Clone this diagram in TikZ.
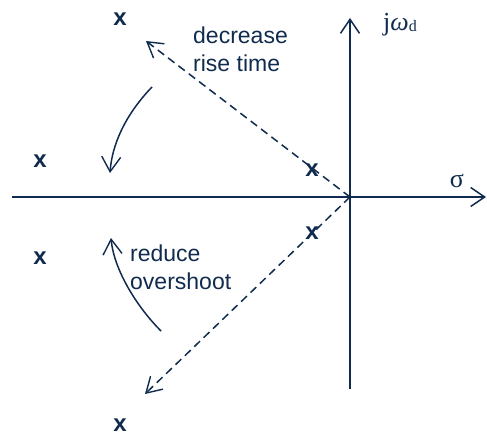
\documentclass[tikz,border=0pt]{standalone}
\usepackage{fontspec}
\setmainfont{Liberation Sans}
\newfontfamily\serifgk{Liberation Serif}
\usetikzlibrary{arrows.meta}
\definecolor{navy}{RGB}{16,43,78}
\begin{document}
\begin{tikzpicture}[x=1pt,y=-1pt,
  every node/.style={text=navy,inner sep=0pt},
  axis/.style={draw=navy,line width=1.9pt,-{Straight Barb[length=14pt,width=19pt,line width=1.5pt]}},
  dashline/.style={draw=navy,line width=1.5pt,dash pattern=on 8pt off 5pt,-{Straight Barb[length=15pt,width=18pt,line width=1.4pt]}},
  bendarrow/.style={draw=navy,line width=1.5pt,-{Straight Barb[length=15pt,width=19pt,line width=1.4pt]}},
  pole/.style={font=\fontsize{24}{27}\selectfont\bfseries},
  lbl/.style={font=\fontsize{23}{27.5}\selectfont,align=left,anchor=north west}]
\useasboundingbox (0,0) rectangle (487,436);
% axes
\coordinate (O) at (350,197);
\coordinate (xl) at (12,197);
\coordinate (xr) at (486,197);
\coordinate (yb) at (350,389);
\coordinate (yt) at (350,18);
\draw[axis] (xl) -- (xr);
\draw[axis] (yb) -- (yt);
% labels
\node (sigma) at (457,181) {\serifgk\fontsize{26}{26}\selectfont σ};
\node[anchor=base west] (jw) at (383,31) {\serifgk\fontsize{26}{26}\selectfont j{\itshape ω}\raisebox{-1pt}{\fontsize{16}{16}\selectfont d}};
% poles
\node[pole] (p1) at (120,19) {x};
\node[pole] (p2) at (40,161) {x};
\node[pole] (p3) at (312,170) {x};
\node[pole] (p4) at (312,233) {x};
\node[pole] (p5) at (40,258) {x};
\node[pole] (p6) at (120,425) {x};
% dashed lines
\coordinate (du) at (146,41);
\coordinate (dl) at (145,394);
\draw[dashline] (O) -- (du);
\draw[dashline] (O) -- (dl);
% texts
\node[lbl] (t1) at (193,27) {decrease\\rise time};
\node[lbl] (t2) at (130,245) {reduce\\overshoot};
% curved arrows
\coordinate (a1s) at (152,87);
\coordinate (a1e) at (110,173);
\coordinate (a2s) at (161,331);
\coordinate (a2e) at (111,238);
\draw[bendarrow] (a1s) .. controls (125,115) and (112,145) .. (a1e);
\draw[bendarrow] (a2s) .. controls (137,307) and (114,270) .. (a2e);
\end{tikzpicture}
\end{document}
